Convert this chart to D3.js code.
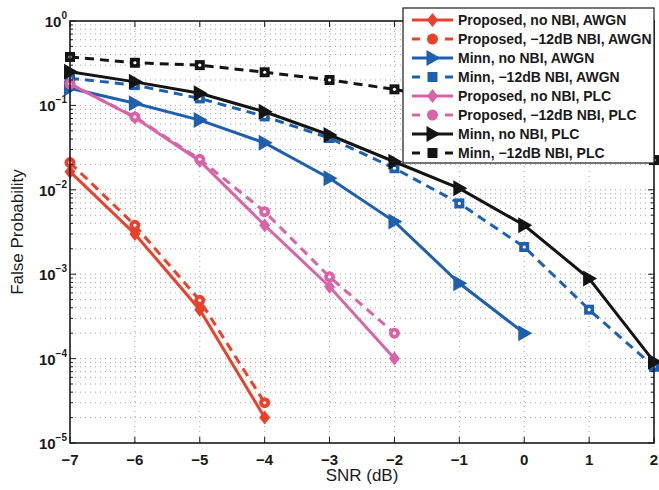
<!DOCTYPE html>
<html>
<head>
<meta charset="utf-8">
<script src="https://d3js.org/d3.v7.min.js"></script>
<style>
    html, body { margin: 0; padding: 0; background: #fff; }
    svg { display: block; font-family: "Liberation Sans", Arial, Helvetica, sans-serif; }
</style>
</head>
<body>
<div id="chart"></div>
<script>
// SNR points (dB)
const snr = [-7, -6, -5, -4, -3, -2, -1, 0, 1, 2];

// False probability per curve (starting at -7 dB)
const propNoNbiAwgn = [0.0164, 0.0030, 3.8e-4, 2.0e-5];
const propNbiAwgn = [0.021, 0.0038, 4.9e-4, 3.0e-5];
const minnNoNbiAwgn = [0.16, 0.106, 0.067, 0.036, 0.0137, 0.0042, 7.8e-4, 2.0e-4];
const minnNbiAwgn = [0.21, 0.174, 0.121, 0.074, 0.041, 0.018, 0.0069, 0.0021, 3.8e-4, 8.0e-5];
const propNoNbiPlc = [0.18, 0.072, 0.022, 0.0038, 7.1e-4, 1.0e-4];
const propNbiPlc = [0.18, 0.073, 0.023, 0.0055, 9.3e-4, 2.0e-4];
const minnNoNbiPlc = [0.25, 0.19, 0.139, 0.084, 0.0446, 0.0215, 0.0104, 0.0038, 8.9e-4, 9.2e-5];
const minnNbiPlc = [0.375, 0.32, 0.30, 0.247, 0.20, 0.155, 0.11, 0.075, 0.045, 0.0225];

const seriesNames = [
    'Proposed, \u221212dB NBI, AWGN'
];
const legendLabels = [
    'Proposed, no NBI, AWGN',
    'Proposed, \u221212dB NBI, AWGN',
    'Minn, no NBI, AWGN',
    'Minn, \u221212dB NBI, AWGN',
    'Proposed, no NBI, PLC',
    'Proposed, \u221212dB NBI, PLC',
    'Minn, no NBI, PLC',
    'Minn, \u221212dB NBI, PLC'
];
const xTicks = [-7, -6, -5, -4, -3, -2, -1, 0, 1, 2];
const yTicks = [1e-5, 1e-4, 1e-3, 1e-2, 1e-1, 1];

const RED = '#e8412c', BLUE = '#1f60ae', PINK = '#d864a8', BLACK = '#141414';

const series = [
    { values: propNoNbiAwgn, color: RED, dashed: false, marker: 'diamond' },
    { values: propNbiAwgn, color: RED, dashed: true, marker: 'circle' },
    { values: minnNoNbiAwgn, color: BLUE, dashed: false, marker: 'triangle' },
    { values: minnNbiAwgn, color: BLUE, dashed: true, marker: 'square' },
    { values: propNoNbiPlc, color: PINK, dashed: false, marker: 'diamond' },
    { values: propNbiPlc, color: PINK, dashed: true, marker: 'circle' },
    { values: minnNoNbiPlc, color: BLACK, dashed: false, marker: 'triangle' },
    { values: minnNbiPlc, color: BLACK, dashed: true, marker: 'square' }
].map((s, i) => ({ ...s, label: legendLabels[i] }));

// Dimensions
const width = 659, height = 490;
const plot = { left: 70, right: 654, top: 21, bottom: 443 };

const svg = d3.select('#chart').append('svg')
    .attr('width', width)
    .attr('height', height);

const x = d3.scaleLinear().domain([-7, 2]).range([plot.left, plot.right]);
const y = d3.scaleLog().domain([1e-5, 1]).range([plot.bottom, plot.top]);

/**
 * Dotted grid (major x, major + minor y)
 */
const grid = svg.append('g');
const gridStyle = sel => sel
    .attr('stroke', '#8a8a8a')
    .attr('stroke-width', 0.8)
    .attr('stroke-dasharray', '1,4');

const minorY = [];
for (let e = -5; e < 0; e++) {
    for (let m = 1; m <= 9; m++) minorY.push(m * Math.pow(10, e));
}
grid.selectAll('.gy').data(minorY.filter(v => v > 1e-5)).enter()
    .append('line')
    .attr('x1', plot.left).attr('x2', plot.right)
    .attr('y1', d => y(d)).attr('y2', d => y(d))
    .call(gridStyle);

grid.selectAll('.gx').data(xTicks.slice(1, -1)).enter()
    .append('line')
    .attr('x1', d => x(d)).attr('x2', d => x(d))
    .attr('y1', plot.top).attr('y2', plot.bottom)
    .call(gridStyle);

/**
 * Markers
 */
function drawMarker(g, type, cx, cy, color, hole) {
    if (type === 'diamond') {
        g.append('path')
            .attr('d', `M${cx},${cy - 7}L${cx + 5.5},${cy}L${cx},${cy + 7}L${cx - 5.5},${cy}Z`)
            .attr('fill', color);
    } else if (type === 'circle') {
        g.append('circle').attr('cx', cx).attr('cy', cy).attr('r', 5.5).attr('fill', color);
    } else if (type === 'triangle') {
        g.append('path')
            .attr('d', `M${cx + 8},${cy}L${cx - 6},${cy - 8}L${cx - 6},${cy + 8}Z`)
            .attr('fill', color);
    } else if (type === 'square') {
        g.append('rect')
            .attr('x', cx - 5).attr('y', cy - 5)
            .attr('width', 10).attr('height', 10)
            .attr('fill', color);
    }
    if (hole) {
        g.append('circle').attr('cx', cx).attr('cy', cy).attr('r', 1.6).attr('fill', '#fff');
    }
}

/**
 * Curves
 */
const line = d3.line()
    .x(d => x(d.snr))
    .y(d => y(d.p));

const curves = svg.append('g');
series.forEach(s => {
    const pts = s.values.map((p, i) => ({ snr: snr[i], p }));
    curves.append('path')
        .datum(pts)
        .attr('d', line)
        .attr('fill', 'none')
        .attr('stroke', s.color)
        .attr('stroke-width', 3)
        .attr('stroke-dasharray', s.dashed ? '9,6' : null);
    pts.forEach(d => drawMarker(curves, s.marker, x(d.snr), y(d.p), s.color, s.dashed));
});

/**
 * Axes box, ticks and labels
 */
const axes = svg.append('g');
axes.append('rect')
    .attr('x', plot.left).attr('y', plot.top)
    .attr('width', plot.right - plot.left)
    .attr('height', plot.bottom - plot.top)
    .attr('fill', 'none')
    .attr('stroke', '#1a1a1a')
    .attr('stroke-width', 1.6);

// x ticks (inside, top and bottom)
xTicks.forEach(t => {
    [[plot.bottom, -6], [plot.top, 6]].forEach(([y0, len]) => {
        axes.append('line')
            .attr('x1', x(t)).attr('x2', x(t))
            .attr('y1', y0).attr('y2', y0 + len)
            .attr('stroke', '#1a1a1a').attr('stroke-width', 1);
    });
    axes.append('text')
        .attr('x', x(t))
        .attr('y', 465)
        .attr('text-anchor', 'middle')
        .attr('font-size', '15px')
        .attr('font-weight', 'bold')
        .attr('fill', '#1a1a1a')
        .text(t < 0 ? '\u2212' + Math.abs(t) : String(t));
});

// y ticks, major and minor (inside, left and right)
minorY.concat([1]).forEach(v => {
    const major = Math.abs(Math.log10(v) - Math.round(Math.log10(v))) < 1e-9;
    const len = major ? 6 : 3;
    [[plot.left, len], [plot.right, -len]].forEach(([x0, l]) => {
        axes.append('line')
            .attr('x1', x0).attr('x2', x0 + l)
            .attr('y1', y(v)).attr('y2', y(v))
            .attr('stroke', '#1a1a1a').attr('stroke-width', 1);
    });
});

yTicks.forEach(v => {
    const e = Math.round(Math.log10(v));
    const t = axes.append('text')
        .attr('x', 67)
        .attr('y', y(v) + 6)
        .attr('text-anchor', 'end')
        .attr('font-weight', 'bold')
        .attr('fill', '#1a1a1a');
    t.append('tspan').attr('font-size', '15px').text('10');
    t.append('tspan')
        .attr('font-size', '10px')
        .attr('dy', -8)
        .text(e < 0 ? '\u2212' + Math.abs(e) : String(e));
});

svg.append('text')
    .attr('x', (plot.left + plot.right) / 2)
    .attr('y', 481)
    .attr('text-anchor', 'middle')
    .attr('font-size', '17px')
    .attr('fill', '#1a1a1a')
    .text('SNR (dB)');

svg.append('text')
    .attr('transform', `translate(23,${(plot.top + plot.bottom) / 2}) rotate(-90)`)
    .attr('text-anchor', 'middle')
    .attr('font-size', '17px')
    .attr('fill', '#1a1a1a')
    .text('False Probability');

/**
 * Legend
 */
const legend = svg.append('g');
legend.append('rect')
    .attr('x', 403).attr('y', 8)
    .attr('width', 251).attr('height', 155)
    .attr('fill', '#fff')
    .attr('stroke', '#1a1a1a')
    .attr('stroke-width', 1.2);

series.forEach((s, i) => {
    const cy = 20 + i * 19;
    legend.append('line')
        .attr('x1', 412).attr('x2', 453)
        .attr('y1', cy).attr('y2', cy)
        .attr('stroke', s.color)
        .attr('stroke-width', 3)
        .attr('stroke-dasharray', s.dashed ? '8,8.5' : null);
    drawMarker(legend, s.marker, 432.5, cy, s.color, false);
    legend.append('text')
        .attr('x', 458)
        .attr('y', cy + 5)
        .attr('font-size', '14px')
        .attr('font-weight', 'bold')
        .attr('fill', '#1a1a1a')
        .text(s.label);
});
</script>
</body>
</html>
